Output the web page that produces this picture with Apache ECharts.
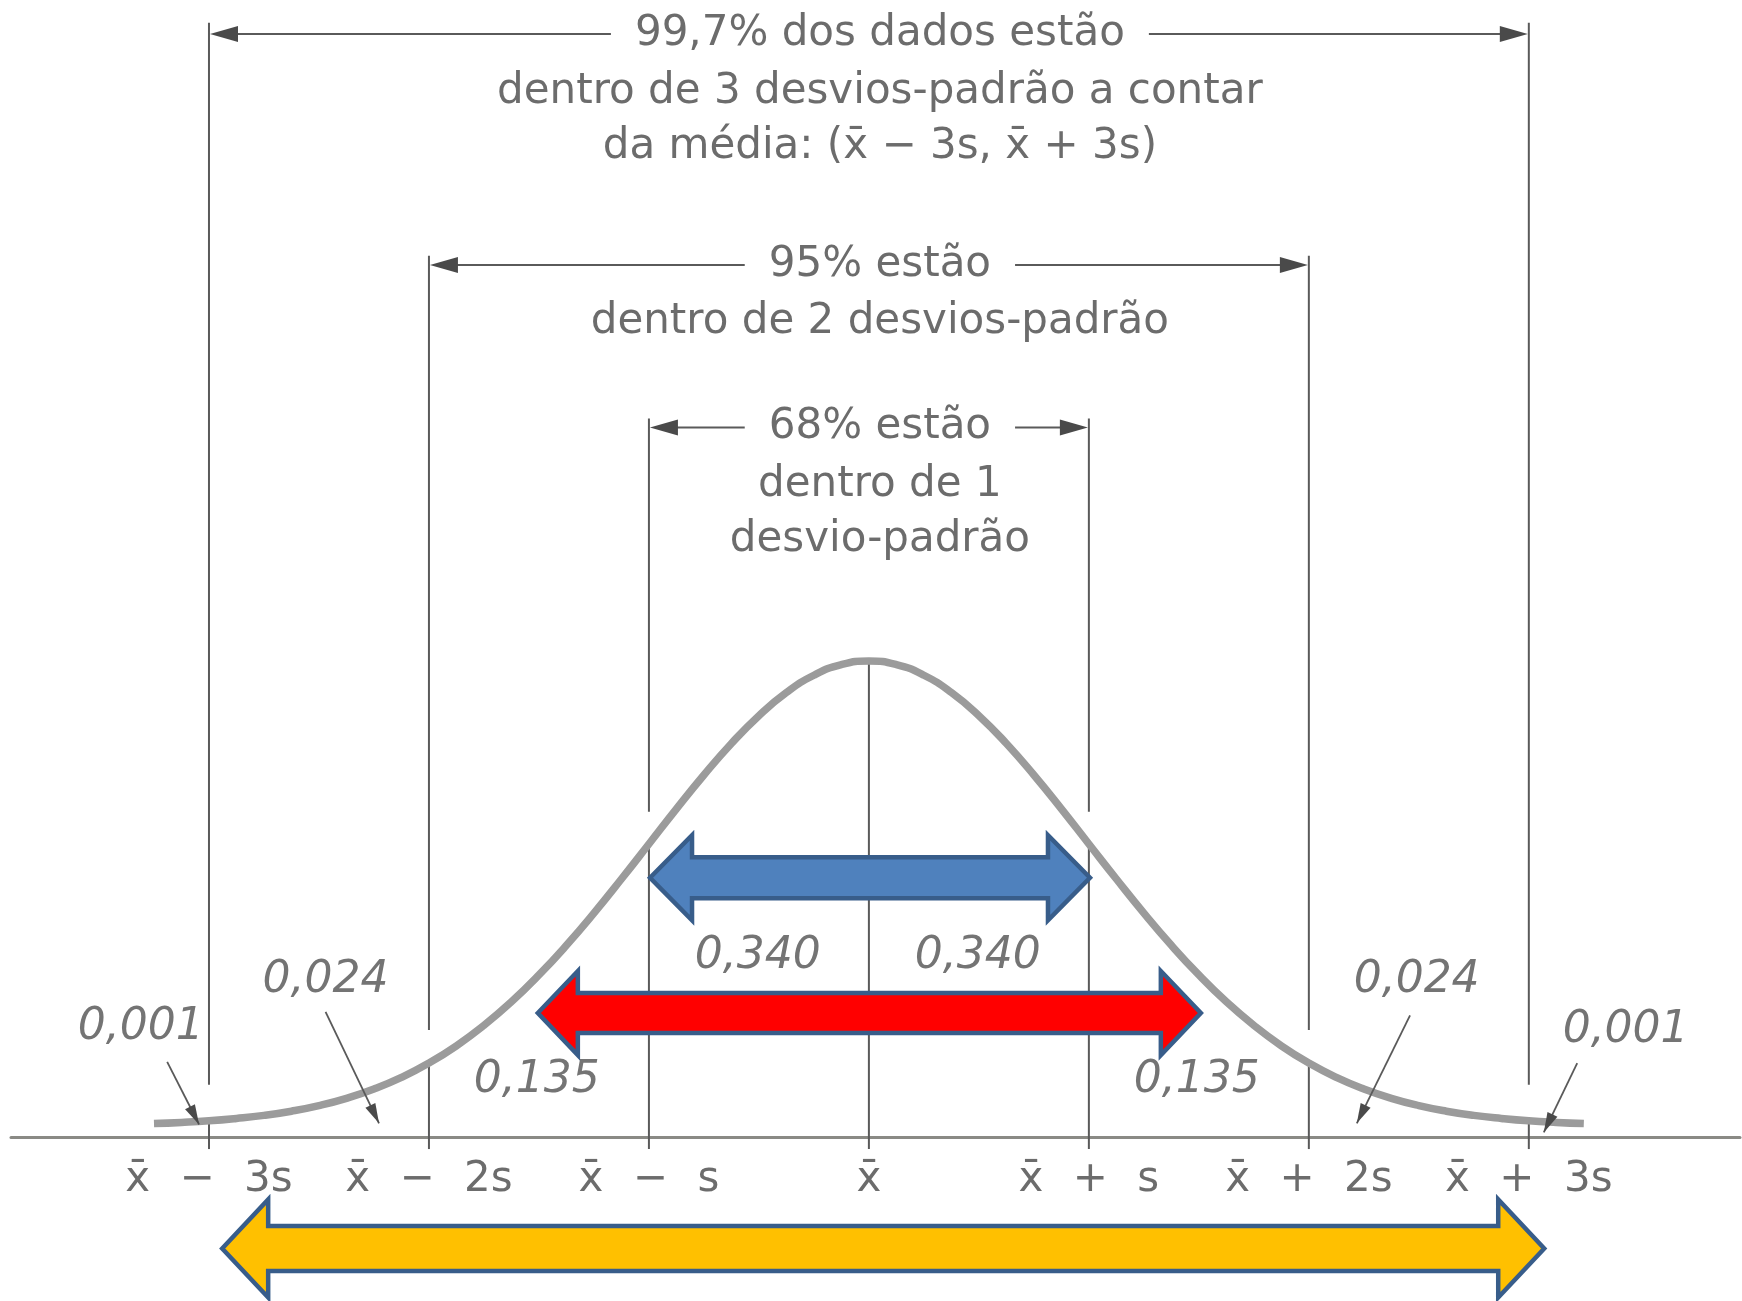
<!DOCTYPE html>
<html>
<head>
<meta charset="utf-8">
<title>Regra empírica</title>
<script src="https://cdn.jsdelivr.net/npm/echarts@6/dist/echarts.min.js"></script>
<style>
  html, body { margin: 0; padding: 0; background: #fff; }
  #chart { width: 1742px; height: 1301px; }
</style>
</head>
<body>
<div id="chart"></div>
<script>
// curva: z em desvios-padrão, altura relativa
const curveZ = [-3.25, -3.125, -3, -2.875, -2.75, -2.625, -2.5, -2.375, -2.25, -2.125, -2, -1.875, -1.75, -1.625,
  -1.5, -1.375, -1.25, -1.125, -1, -0.875, -0.75, -0.625, -0.5, -0.375, -0.25, -0.125, 0,
  0.125, 0.25, 0.375, 0.5, 0.625, 0.75, 0.875, 1, 1.125, 1.25, 1.375, 1.5,
  1.625, 1.75, 1.875, 2, 2.125, 2.25, 2.375, 2.5, 2.625, 2.75, 2.875, 3, 3.125, 3.25];
const curveH = [0.0118, 0.0128, 0.0142, 0.0163, 0.0190, 0.0227, 0.0276, 0.0340, 0.0422, 0.0524, 0.0650, 0.0802, 0.0982, 0.1189,
  0.1425, 0.1686, 0.1969, 0.2269, 0.2577, 0.2886, 0.3184, 0.3461, 0.3706, 0.3909, 0.4061, 0.4155, 0.4187,
  0.4155, 0.4061, 0.3909, 0.3706, 0.3461, 0.3184, 0.2886, 0.2577, 0.2269, 0.1969, 0.1686, 0.1425,
  0.1189, 0.0982, 0.0802, 0.0650, 0.0524, 0.0422, 0.0340, 0.0276, 0.0227, 0.0190, 0.0163, 0.0142, 0.0128, 0.0118];

// marcas do eixo e linhas verticais
const tickZ = [-3, -2, -1, 0, 1, 2, 3];
const tickLabels = ['x\u0304 \u2212 3s', 'x\u0304 \u2212 2s', 'x\u0304 \u2212 s', 'x\u0304', 'x\u0304 + s', 'x\u0304 + 2s', 'x\u0304 + 3s'];
const guideTop = [0.980, 0.775, 0.632, 0.419, 0.632, 0.775, 0.980];
const guideGapTop = [0.046, 0.094, 0.286, null, 0.286, 0.094, 0.046];
const guideGapBottom = [0.013, 0.066, 0.259, null, 0.259, 0.066, 0.013];

// cotas 99,7% / 95% / 68%
const spanLeft = [-3, -2, -1];
const spanRight = [3, 2, 1];
const spanY = [0.970, 0.767, 0.624];
const spanTitle = ['99,7% dos dados estão', '95% estão', '68% estão'];
const spanNote = ['dentro de 3 desvios-padrão a contar\nda média: (x\u0304 \u2212 3s, x\u0304 + 3s)',
  'dentro de 2 desvios-padrão', 'dentro de 1\ndesvio-padrão'];

// proporções em cada faixa
const probText = ['0,001', '0,024', '0,135', '0,340', '0,340', '0,135', '0,024', '0,001'];
const probZ = [-3.31, -2.47, -1.51, -0.505, 0.495, 1.49, 2.49, 3.44];
const probY = [0.096, 0.138, 0.050, 0.159, 0.159, 0.050, 0.138, 0.094];

// setas finas das caudas
const pointerFromZ = [-3.19, -2.47, 2.46, 3.22];
const pointerFromY = [0.066, 0.110, 0.107, 0.065];
const pointerToZ = [-3.045, -2.227, 2.218, 3.068];
const pointerToY = [0.011, 0.012, 0.012, 0.004];

// setas coloridas (azul, vermelha, amarela)
const bandLeft = [-0.995, -1.505, -2.94];
const bandRight = [1.005, 1.509, 3.07];
const bandY = [0.228, 0.109, -0.098];

const bandStyle = [
  {color: '#4F81BD', shaft: 20.5, head: 42.5, len: 42},
  {color: '#FF0000', shaft: 20, head: 42, len: 40},
  {color: '#FFC000', shaft: 22.5, head: 49, len: 46}
];

const FONT = '"DejaVu Sans", sans-serif';
const GREY = '#6c6c6c';
const LINE = '#5a5a5a';
const TEXT_Z = 0.05;

function arrowHead(tip, from, len, half, fill) {
  const dx = tip[0] - from[0], dy = tip[1] - from[1];
  const d = Math.hypot(dx, dy);
  const ux = dx / d, uy = dy / d;
  const bx = tip[0] - ux * len, by = tip[1] - uy * len;
  return {
    type: 'polygon',
    shape: {points: [tip, [bx - uy * half, by + ux * half], [bx + uy * half, by - ux * half]]},
    style: {fill: fill}
  };
}

let chart = echarts.init(document.getElementById('chart'));

chart.setOption({
  animation: false,
  backgroundColor: '#fff',
  grid: {left: 11, right: 2, top: 0, bottom: 164, containLabel: false, outerBoundsMode: 'none'},
  xAxis: {
    type: 'value',
    min: -3.9,
    max: 3.96,
    splitLine: {show: false},
    axisTick: {show: false},
    axisLine: {onZero: false, lineStyle: {color: '#8a8a85', width: 3}},
    axisLabel: {
      customValues: tickZ,
      // espaçamento mais largo, como no original
      formatter: function (v) { return tickLabels[tickZ.indexOf(v)].replace(/ /g, '\u2002\u2009'); },
      fontFamily: FONT,
      fontSize: 42,
      color: GREY,
      margin: 22
    }
  },
  yAxis: {type: 'value', min: 0, max: 1, show: false},
  series: [
    {
      // linhas verticais
      type: 'custom',
      z: 1,
      clip: false,
      data: tickZ.map((z, i) => [z, guideTop[i], guideGapTop[i], guideGapBottom[i]]),
      renderItem: function (params, api) {
        const i = params.dataIndex;
        const z = tickZ[i];
        const x = api.coord([z, 0])[0];
        const yTop = api.coord([z, guideTop[i]])[1];
        const yBot = api.coord([z, -0.0106])[1];
        const style = {stroke: LINE, lineWidth: 2};
        const parts = [];
        if (guideGapTop[i] == null) {
          parts.push({type: 'line', shape: {x1: x, y1: yTop, x2: x, y2: yBot}, style: style});
        } else {
          const g1 = api.coord([z, guideGapTop[i]])[1];
          const g2 = api.coord([z, guideGapBottom[i]])[1];
          parts.push({type: 'line', shape: {x1: x, y1: yTop, x2: x, y2: g1}, style: style});
          parts.push({type: 'line', shape: {x1: x, y1: g2, x2: x, y2: yBot}, style: style});
        }
        return {type: 'group', children: parts};
      }
    },
    {
      // curva
      type: 'line',
      z: 2,
      smooth: true,
      showSymbol: false,
      data: curveZ.map((z, i) => [z, curveH[i]]),
      lineStyle: {color: '#9b9b9b', width: 7.5, cap: 'butt'}
    },
    {
      // cotas com texto
      type: 'custom',
      z: 3,
      data: spanY.map((y, i) => [spanLeft[i], spanRight[i], y]),
      renderItem: function (params, api) {
        const i = params.dataIndex;
        const a = api.coord([spanLeft[i], spanY[i]]);
        const b = api.coord([spanRight[i], spanY[i]]);
        const c = api.coord([TEXT_Z, spanY[i]]);
        return {
          type: 'group',
          children: [
            {type: 'line', shape: {x1: a[0] + 10, y1: a[1], x2: b[0] - 10, y2: b[1]}, style: {stroke: LINE, lineWidth: 2}},
            arrowHead([a[0] + 1, a[1]], [a[0] + 40, a[1]], 28, 8, '#4a4a4a'),
            arrowHead([b[0] - 1, b[1]], [b[0] - 40, b[1]], 28, 8, '#4a4a4a'),
            {
              type: 'text', x: c[0], y: c[1],
              style: {
                text: spanTitle[i], fill: GREY, fontFamily: FONT, fontSize: 42,
                align: 'center', verticalAlign: 'middle',
                backgroundColor: '#fff', padding: [4, 24]
              }
            },
            {
              type: 'text', x: c[0], y: c[1] + 30,
              style: {
                text: spanNote[i], fill: GREY, fontFamily: FONT, fontSize: 42,
                align: 'center', verticalAlign: 'top', lineHeight: 55
              }
            }
          ]
        };
      }
    },
    {
      // setas finas
      type: 'custom',
      z: 3,
      data: pointerFromZ.map((z, i) => [z, pointerFromY[i], pointerToZ[i], pointerToY[i]]),
      renderItem: function (params, api) {
        const i = params.dataIndex;
        const p = api.coord([pointerFromZ[i], pointerFromY[i]]);
        const q = api.coord([pointerToZ[i], pointerToY[i]]);
        return {
          type: 'group',
          children: [
            {type: 'line', shape: {x1: p[0], y1: p[1], x2: q[0], y2: q[1]}, style: {stroke: LINE, lineWidth: 1.8}},
            arrowHead(q, p, 20, 5.5, '#4a4a4a')
          ]
        };
      }
    },
    {
      // proporções
      type: 'custom',
      z: 4,
      data: probZ.map((z, i) => [z, probY[i]]),
      renderItem: function (params, api) {
        const i = params.dataIndex;
        const p = api.coord([probZ[i], probY[i]]);
        return {
          type: 'text', x: p[0], y: p[1],
          style: {
            text: probText[i], fill: '#747474', fontFamily: FONT, fontSize: 44, fontStyle: 'italic',
            align: 'center', verticalAlign: 'middle'
          }
        };
      }
    },
    {
      // setas coloridas
      type: 'custom',
      z: 5,
      clip: false,
      data: bandY.map((y, i) => [bandLeft[i], bandRight[i], y]),
      renderItem: function (params, api) {
        const i = params.dataIndex;
        const s = bandStyle[i];
        const a = api.coord([bandLeft[i], bandY[i]]);
        const b = api.coord([bandRight[i], bandY[i]]);
        const x1 = a[0], x2 = b[0], cy = a[1];
        return {
          type: 'polygon',
          shape: {
            points: [
              [x1, cy], [x1 + s.len, cy - s.head], [x1 + s.len, cy - s.shaft],
              [x2 - s.len, cy - s.shaft], [x2 - s.len, cy - s.head], [x2, cy],
              [x2 - s.len, cy + s.head], [x2 - s.len, cy + s.shaft],
              [x1 + s.len, cy + s.shaft], [x1 + s.len, cy + s.head]
            ]
          },
          style: {fill: s.color, stroke: '#385D8A', lineWidth: 4.5, lineJoin: 'miter'}
        };
      }
    }
  ]
});
</script>
</body>
</html>
